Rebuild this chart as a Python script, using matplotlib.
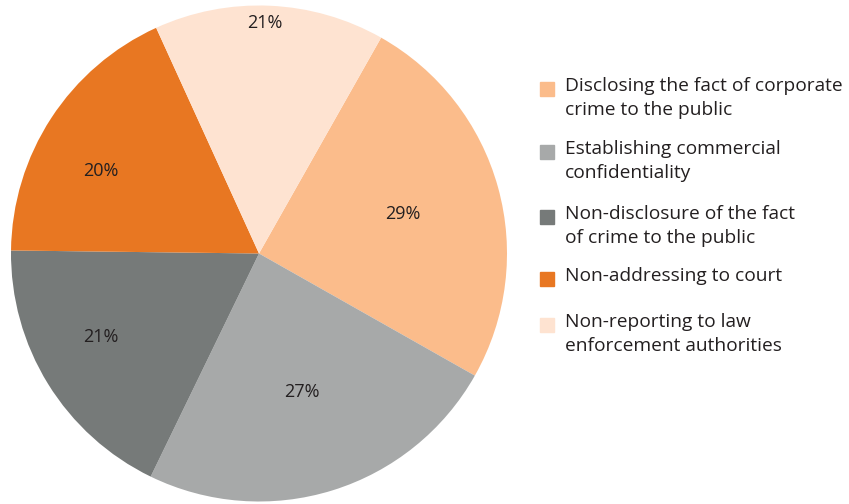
import numpy as np
import matplotlib.pyplot as plt
from matplotlib.patches import Rectangle

plt.rcParams['font.family'] = ['Open Sans', 'DejaVu Sans']

sizes = [25, 24, 18, 18, 15]
pct_labels = ['29%', '27%', '21%', '20%', '21%']
names = ['Disclosing the fact of corporate\ncrime to the public',
         'Establishing commercial\nconfidentiality',
         'Non-disclosure of the fact\nof crime to the public',
         'Non-addressing to court',
         'Non-reporting to law\nenforcement authorities']
colors = ['#FBBC8B', '#A7A9A9', '#767A79', '#E87722', '#FEE3D1']

fig = plt.figure(figsize=(8.49, 5.04), dpi=100)
ax = fig.add_axes([11/849, 2.5/504, 496/849, 496/504])
wedges, _ = ax.pie(sizes, colors=colors, startangle=60.5, counterclock=False,
                   wedgeprops=dict(linewidth=0))
ax.set_xlim(-1, 1)
ax.set_ylim(-1, 1)
ax.set_aspect('equal')

# label radius and angle shift per wedge
lab_r = [0.60, 0.585, 0.72, 0.72, 0.93]
lab_shift = [0, 0, -4, 5.5, 1]
for w, t, r, s in zip(wedges, pct_labels, lab_r, lab_shift):
    a = np.deg2rad((w.theta1 + w.theta2) / 2 + s)
    ax.text(r * np.cos(a), r * np.sin(a), t, ha='center', va='center',
            fontsize=13, color='#231F20')

# legend
tops = [77, 140, 205, 267, 313]
for c, n, y in zip(colors, names, tops):
    fig.patches.append(Rectangle((540/849, 1 - (y + 19)/504), 14/849, 14/504,
                                 transform=fig.transFigure, color=c))
    fig.text(565/849, 1 - y/504, n, ha='left', va='top', fontsize=13.8,
             linespacing=1.42, color='#231F20')

fig.savefig('out.png', dpi=100)
